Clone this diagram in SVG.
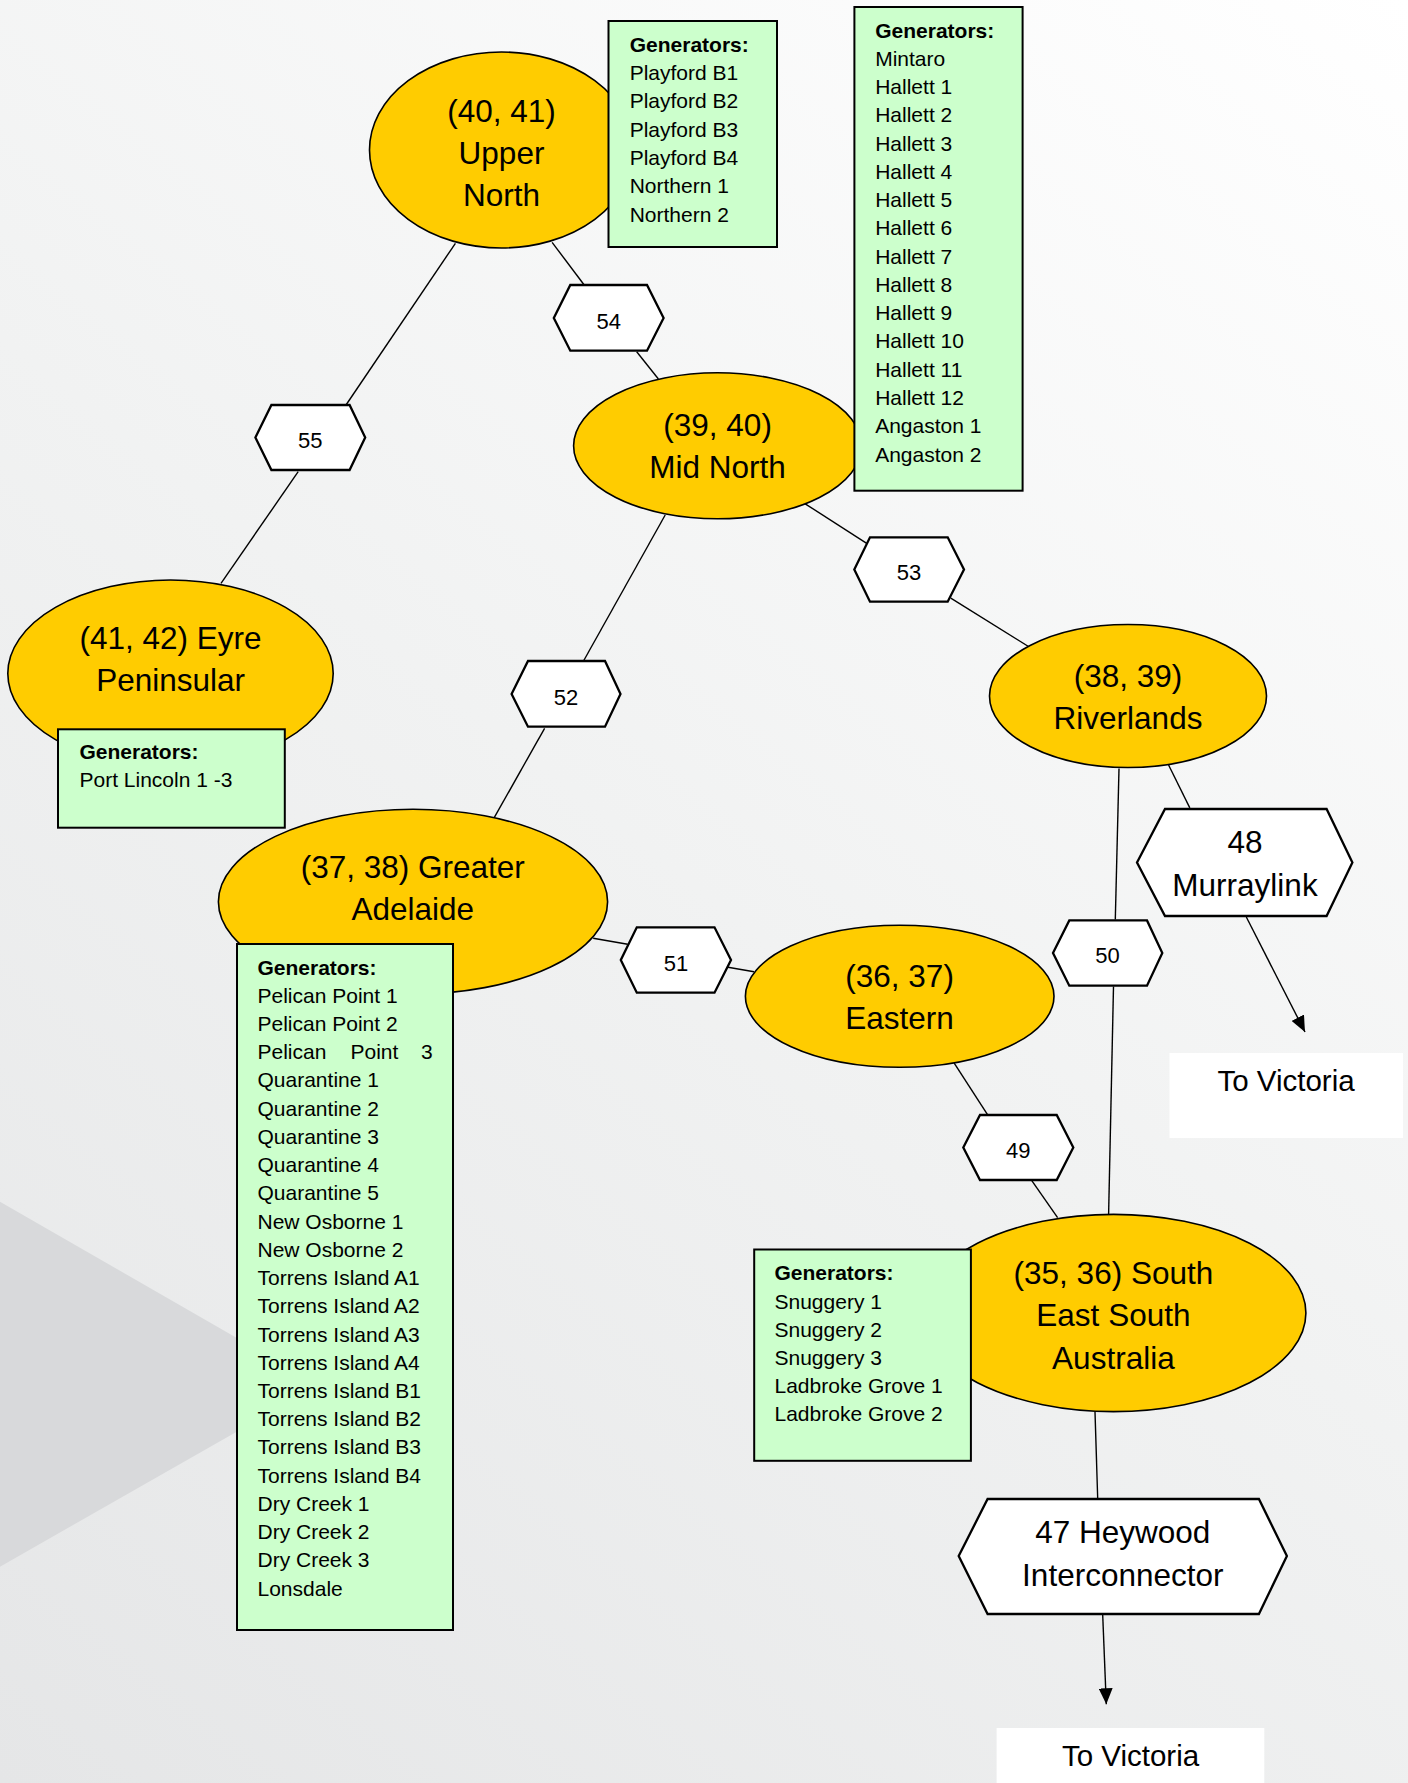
<svg xmlns="http://www.w3.org/2000/svg" width="1408" height="1783" viewBox="0 0 1408 1783">
<defs>
<linearGradient id="bg" x1="1408" y1="0" x2="0" y2="1783" gradientUnits="userSpaceOnUse">
<stop offset="0" stop-color="#ffffff"/>
<stop offset="0.5" stop-color="#f1f2f2"/>
<stop offset="1" stop-color="#e5e6e7"/>
</linearGradient>
<marker id="arr" markerUnits="userSpaceOnUse" markerWidth="16" markerHeight="14" viewBox="0 0 16 14" refX="16" refY="7" orient="auto">
<path d="M0,0 L16,7 L0,14 z" fill="#000"/>
</marker>
<style>
.reg{fill:#FFCC00;stroke:#000;stroke-width:1.6}
.gen{fill:#CCFFCC;stroke:#000;stroke-width:2}
.hex{fill:#fff;stroke:#000;stroke-width:2.3;stroke-linejoin:miter}
.big{font-family:"Liberation Sans",Arial,sans-serif;font-size:31.5px;fill:#000;text-anchor:middle}
.num{font-family:"Liberation Sans",Arial,sans-serif;font-size:22px;fill:#000;text-anchor:middle}
.gt{font-family:"Liberation Sans",Arial,sans-serif;font-size:21px;fill:#000}
.gh{font-weight:bold}
.ln{stroke:#000;stroke-width:1.4;fill:none}
.tv{fill:#fff}
.tvt{font-family:"Liberation Sans",Arial,sans-serif;font-size:29.5px;fill:#000;text-anchor:middle}
</style>
</defs>
<rect x="0" y="0" width="1408" height="1783" fill="url(#bg)"/>
<polygon points="0,1201.7 318.5,1385 0,1566.7" fill="#d8d9db"/>

<g id="connectors">
<line class="ln" x1="455.4" y1="243.3" x2="346" y2="405"/>
<line class="ln" x1="298.2" y1="471.7" x2="221" y2="583.3"/>
<line class="ln" x1="552.1" y1="242.3" x2="584.2" y2="285"/>
<line class="ln" x1="636.7" y1="351.7" x2="658.4" y2="379"/>
<line class="ln" x1="805.2" y1="503.8" x2="866.7" y2="543.3"/>
<line class="ln" x1="950.8" y1="598.2" x2="1029.3" y2="647"/>
<line class="ln" x1="665.2" y1="515" x2="583.5" y2="661"/>
<line class="ln" x1="544.6" y1="728.3" x2="494.2" y2="817.7"/>
<line class="ln" x1="593.2" y1="938.3" x2="627.7" y2="944.3"/>
<line class="ln" x1="728" y1="967.3" x2="754" y2="971.7"/>
<line class="ln" x1="954.2" y1="1063.2" x2="988" y2="1115.4"/>
<line class="ln" x1="1031.8" y1="1180.7" x2="1057.6" y2="1217.6"/>
<line class="ln" x1="1119" y1="768.6" x2="1115.3" y2="919.6"/>
<line class="ln" x1="1113.5" y1="986.4" x2="1108.6" y2="1214.4"/>
<line class="ln" x1="1168.6" y1="765" x2="1189.8" y2="807.9"/>
<line class="ln" x1="1095" y1="1411.5" x2="1097.7" y2="1498.9"/>
<line class="ln" x1="1246.3" y1="917" x2="1305" y2="1032" marker-end="url(#arr)"/>
<line class="ln" x1="1102.7" y1="1615" x2="1106.3" y2="1704.3" marker-end="url(#arr)"/>
</g>

<g id="upper-north">
<ellipse class="reg" cx="501.5" cy="150" rx="132" ry="98"/>
<text class="big" x="501.5" y="121.5">(40, 41)</text>
<text class="big" x="501.5" y="163.7">Upper</text>
<text class="big" x="501.5" y="205.8">North</text>
</g>
<g id="mid-north">
<ellipse class="reg" cx="717.6" cy="445.8" rx="144" ry="73"/>
<text class="big" x="717.6" y="435.5">(39, 40)</text>
<text class="big" x="717.6" y="477.6">Mid North</text>
</g>
<g id="eyre-peninsular">
<ellipse class="reg" cx="170.5" cy="673.5" rx="162.7" ry="93.5"/>
<text class="big" x="170.6" y="649">(41, 42) Eyre</text>
<text class="big" x="170.6" y="691">Peninsular</text>
</g>
<g id="riverlands">
<ellipse class="reg" cx="1128" cy="696" rx="138.5" ry="71.5"/>
<text class="big" x="1128" y="687">(38, 39)</text>
<text class="big" x="1128" y="729">Riverlands</text>
</g>
<g id="greater-adelaide">
<ellipse class="reg" cx="413" cy="901.7" rx="194.6" ry="92.4"/>
<text class="big" x="412.8" y="878">(37, 38) Greater</text>
<text class="big" x="412.8" y="920">Adelaide</text>
</g>
<g id="eastern">
<ellipse class="reg" cx="899.7" cy="996.3" rx="154.3" ry="71"/>
<text class="big" x="899.6" y="987">(36, 37)</text>
<text class="big" x="899.6" y="1029">Eastern</text>
</g>
<g id="south-east-sa">
<ellipse class="reg" cx="1113.5" cy="1313" rx="192.4" ry="98.6"/>
<text class="big" x="1113.4" y="1284">(35, 36) South</text>
<text class="big" x="1113.4" y="1326">East South</text>
<text class="big" x="1113.4" y="1369">Australia</text>
</g>

<g id="gen-upper-north">
<rect class="gen" x="608.5" y="21" width="168.5" height="226"/>
<text class="gt"><tspan class="gh" x="629.7" y="52">Generators:</tspan><tspan x="629.7" y="80">Playford B1</tspan><tspan x="629.7" y="108.3">Playford B2</tspan><tspan x="629.7" y="136.6">Playford B3</tspan><tspan x="629.7" y="164.9">Playford B4</tspan><tspan x="629.7" y="193.2">Northern 1</tspan><tspan x="629.7" y="221.5">Northern 2</tspan></text>
</g>
<g id="gen-mid-north">
<rect class="gen" x="854.4" y="7" width="168.2" height="483.7"/>
<text class="gt"><tspan class="gh" x="875.2" y="38">Generators:</tspan><tspan x="875.2" y="65.7">Mintaro</tspan><tspan x="875.2" y="94">Hallett 1</tspan><tspan x="875.2" y="122.2">Hallett 2</tspan><tspan x="875.2" y="150.5">Hallett 3</tspan><tspan x="875.2" y="178.8">Hallett 4</tspan><tspan x="875.2" y="207">Hallett 5</tspan><tspan x="875.2" y="235.3">Hallett 6</tspan><tspan x="875.2" y="263.6">Hallett 7</tspan><tspan x="875.2" y="291.9">Hallett 8</tspan><tspan x="875.2" y="320.1">Hallett 9</tspan><tspan x="875.2" y="348.4">Hallett 10</tspan><tspan x="875.2" y="376.7">Hallett 11</tspan><tspan x="875.2" y="404.9">Hallett 12</tspan><tspan x="875.2" y="433.2">Angaston 1</tspan><tspan x="875.2" y="461.5">Angaston 2</tspan></text>
</g>
<g id="gen-eyre">
<rect class="gen" x="58" y="729.3" width="226.8" height="98.4"/>
<text class="gt"><tspan class="gh" x="79.5" y="759.3">Generators:</tspan><tspan x="79.5" y="787.3">Port Lincoln 1 -3</tspan></text>
</g>
<g id="gen-greater-adelaide">
<rect class="gen" x="237" y="944" width="216" height="686"/>
<text class="gt"><tspan class="gh" x="257.5" y="975">Generators:</tspan><tspan x="257.5" y="1002.7">Pelican Point 1</tspan><tspan x="257.5" y="1030.9">Pelican Point 2</tspan><tspan x="257.5" y="1059.2">Pelican</tspan><tspan x="350.5" y="1059.2">Point</tspan><tspan x="421" y="1059.2">3</tspan><tspan x="257.5" y="1087.4">Quarantine 1</tspan><tspan x="257.5" y="1115.6">Quarantine 2</tspan><tspan x="257.5" y="1143.9">Quarantine 3</tspan><tspan x="257.5" y="1172.1">Quarantine 4</tspan><tspan x="257.5" y="1200.3">Quarantine 5</tspan><tspan x="257.5" y="1228.5">New Osborne 1</tspan><tspan x="257.5" y="1256.8">New Osborne 2</tspan><tspan x="257.5" y="1285">Torrens Island A1</tspan><tspan x="257.5" y="1313.2">Torrens Island A2</tspan><tspan x="257.5" y="1341.5">Torrens Island A3</tspan><tspan x="257.5" y="1369.7">Torrens Island A4</tspan><tspan x="257.5" y="1397.9">Torrens Island B1</tspan><tspan x="257.5" y="1426.2">Torrens Island B2</tspan><tspan x="257.5" y="1454.4">Torrens Island B3</tspan><tspan x="257.5" y="1482.6">Torrens Island B4</tspan><tspan x="257.5" y="1510.8">Dry Creek 1</tspan><tspan x="257.5" y="1539.1">Dry Creek 2</tspan><tspan x="257.5" y="1567.3">Dry Creek 3</tspan><tspan x="257.5" y="1595.6">Lonsdale</tspan></text>
</g>
<g id="gen-south-east-sa">
<rect class="gen" x="754.2" y="1249.5" width="216.7" height="211.3"/>
<text class="gt"><tspan class="gh" x="774.5" y="1279.5">Generators:</tspan><tspan x="774.5" y="1309">Snuggery 1</tspan><tspan x="774.5" y="1337">Snuggery 2</tspan><tspan x="774.5" y="1365">Snuggery 3</tspan><tspan x="774.5" y="1393">Ladbroke Grove 1</tspan><tspan x="774.5" y="1421">Ladbroke Grove 2</tspan></text>
</g>

<g id="link-54">
<polygon class="hex" points="553.8,318 570.3,285 647,285 663.6,318 647,350.7 570.3,350.7"/>
<text class="num" x="608.7" y="328.5">54</text>
</g>
<g id="link-55">
<polygon class="hex" points="255.4,437.5 271.4,405 349.6,405 365.2,437.5 349.6,470 271.4,470"/>
<text class="num" x="310.3" y="448">55</text>
</g>
<g id="link-53">
<polygon class="hex" points="854.3,569.5 870,537.3 947.7,537.3 964,569.5 947.7,601.7 870,601.7"/>
<text class="num" x="909" y="580">53</text>
</g>
<g id="link-52">
<polygon class="hex" points="511.6,694 528,661 605,661 620.5,694 605,726.7 528,726.7"/>
<text class="num" x="566" y="704.5">52</text>
</g>
<g id="link-51">
<polygon class="hex" points="620.8,960 636.8,927.3 714.5,927.3 731,960 714.5,992.7 636.8,992.7"/>
<text class="num" x="675.9" y="970.5">51</text>
</g>
<g id="link-50">
<polygon class="hex" points="1053,953 1069.3,920.4 1147,920.4 1162.3,953 1147,985.7 1069.3,985.7"/>
<text class="num" x="1107.6" y="963">50</text>
</g>
<g id="link-49">
<polygon class="hex" points="963.3,1147.5 980,1115 1056.7,1115 1073.3,1147.5 1056.7,1180 980,1180"/>
<text class="num" x="1018.3" y="1158.3">49</text>
</g>
<g id="link-48">
<polygon class="hex" points="1137,862.5 1165,809 1326.6,809 1352.4,862.5 1326.6,916 1165,916"/>
<text class="big" x="1245" y="853">48</text>
<text class="big" x="1245" y="896">Murraylink</text>
</g>
<g id="link-47">
<polygon class="hex" points="958.7,1556 987.6,1499 1258.9,1499 1286.9,1556 1258.9,1614 987.6,1614"/>
<text class="big" x="1122.8" y="1543.4">47 Heywood</text>
<text class="big" x="1122.8" y="1586">Interconnector</text>
</g>

<g id="to-victoria-1">
<rect class="tv" x="1169.5" y="1053" width="233.5" height="85"/>
<text class="tvt" x="1286" y="1091">To Victoria</text>
</g>
<g id="to-victoria-2">
<rect class="tv" x="996.6" y="1728" width="267.7" height="60"/>
<text class="tvt" x="1130.5" y="1766">To Victoria</text>
</g>
</svg>
